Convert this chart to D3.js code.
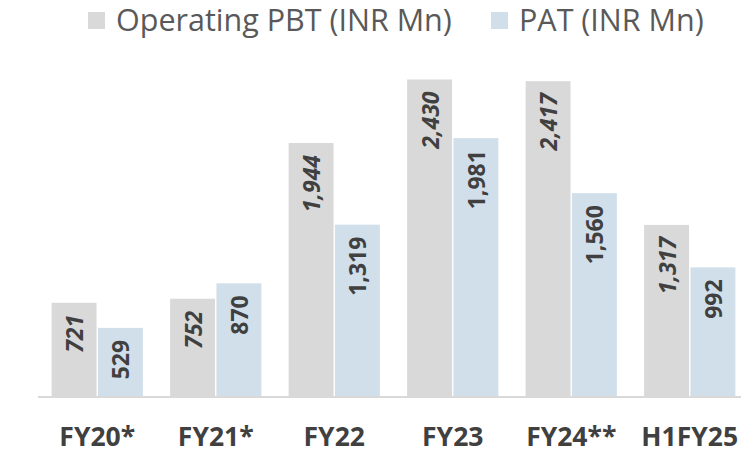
<!DOCTYPE html>
<html>
<head>
<meta charset="utf-8">
<script src="https://cdn.jsdelivr.net/npm/d3@7"></script>
<style>
  body { margin: 0; background: #fff; }
  svg { display: block; font-family: 'Open Sans', 'Noto Sans', sans-serif; }
</style>
</head>
<body>
<svg id="chart"></svg>
<script>
const categories = ['FY20*', 'FY21*', 'FY22', 'FY23', 'FY24**', 'H1FY25'];
const seriesNames = ['Operating PBT (INR Mn)', 'PAT (INR Mn)'];
const pbt = [721, 752, 1944, 2430, 2417, 1317];
const pat = [529, 870, 1319, 1981, 1560, 992];

const config = {
  width: 741,
  height: 450,
  marginTop: 5,
  marginLeft: 38,
  plotRight: 749,
  baseline: 397,
  colors: ['#d9d9d9', '#d0dfea'],
  textColor: '#404040',
  legendColor: '#595959',
};

const { width, height } = config;
const svg = d3.select('#chart').attr('width', width).attr('height', height).attr('viewBox', [0, 0, width, height]);

const x = d3.scaleBand(categories, [config.marginLeft, config.plotRight]).paddingInner(0.23).paddingOuter(0.115);
const sub = d3.scaleBand([0, 1], [0, x.bandwidth()]).paddingInner(0.03);
const y = d3.scaleLinear([0, 3000], [config.baseline, config.marginTop]);

const rows = categories.map((c, i) => ({ c, vals: [pbt[i], pat[i]] }));

// bars
const groups = svg.append('g')
  .selectAll('g')
  .data(rows)
  .join('g')
  .attr('transform', (d) => `translate(${x(d.c)},0)`);

groups.selectAll('rect')
  .data((d) => d.vals.map((v, k) => ({ v, k })))
  .join('rect')
  .attr('x', (d) => sub(d.k))
  .attr('y', (d) => y(d.v))
  .attr('width', sub.bandwidth())
  .attr('height', (d) => y(0) - y(d.v))
  .attr('fill', (d) => config.colors[d.k]);

// value labels, rotated, inside end
groups.selectAll('text')
  .data((d) => d.vals.map((v, k) => ({ v, k })))
  .join('text')
  .attr('transform', (d) => `translate(${sub(d.k) + sub.bandwidth() / 2},${y(d.v) + 12}) rotate(-90)`)
  .attr('text-anchor', 'end')
  .attr('dominant-baseline', 'central')
  .attr('font-size', 23)
  .attr('font-weight', 'bold')
  .attr('font-style', (d) => (d.k === 0 ? 'italic' : 'normal'))
  .attr('fill', config.textColor)
  .text((d) => d3.format(',')(d.v));

// x axis
const xAxis = svg.append('g')
  .attr('transform', `translate(0,${config.baseline})`)
  .call(d3.axisBottom(x).tickSize(0).tickPadding(0));
xAxis.select('.domain').attr('d', `M${config.marginLeft},0H${width}`).attr('stroke', '#d9d9d9').attr('stroke-width', 2);
xAxis.selectAll('.tick text')
  .attr('y', 49)
  .attr('dy', null)
  .attr('font-size', 26.5)
  .attr('font-weight', 'bold')
  .attr('font-family', "'Open Sans', sans-serif")
  .attr('fill', config.textColor);

// legend
const legendX = [88, 491];
const legend = svg.append('g')
  .selectAll('g')
  .data(seriesNames)
  .join('g')
  .attr('transform', (d, i) => `translate(${legendX[i]},0)`);
legend.append('rect')
  .attr('x', 0)
  .attr('y', 12)
  .attr('width', 17)
  .attr('height', 17)
  .attr('fill', (d, i) => config.colors[i]);
legend.append('text')
  .attr('x', 28)
  .attr('y', 31)
  .attr('font-size', 30.5)
  .attr('fill', config.legendColor)
  .text((d) => d);
</script>
</body>
</html>
